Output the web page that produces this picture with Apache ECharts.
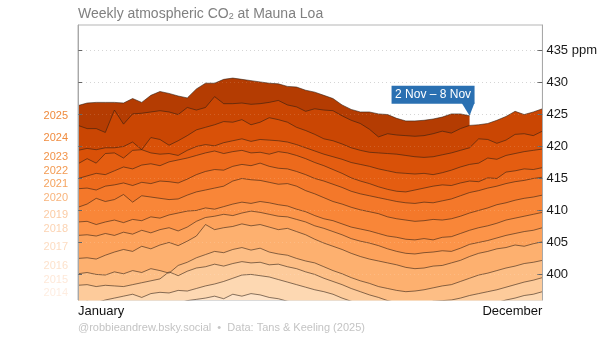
<!DOCTYPE html>
<html><head><meta charset="utf-8">
<script src="https://cdn.jsdelivr.net/npm/echarts@6/dist/echarts.min.js"></script>
<style>html,body{margin:0;padding:0;background:#fff}#c{width:600px;height:338px}</style>
</head><body><div id="c"></div>
<script>
// ---- data (ppm, weekly) ----
const years = [2012,2013,2014,2015,2016,2017,2018,2019,2020,2021,2022,2023,2024,2025];
const co2_2012 = [392.9,393.2,393.5,393.6,394.0,394.3,394.2,394.6,394.5,394.9,395.2,395.5,395.9,396.1,396.3,396.6,396.2,396.9,396.6,397.0,396.8,396.4,396.2,395.8,395.6,395.2,394.8,394.3,394.0,393.5,393.0,392.6,392.3,391.9,391.6,391.3,391.1,391.0,390.9,391.0,391.2,391.5,391.9,392.3,392.7,393.0,393.3,393.7,394.0,394.3,394.5,394.7];
const co2_2013 = [395.5,395.8,395.6,396.0,396.3,396.6,396.9,396.4,397.0,397.2,397.1,397.5,397.4,397.8,398.2,398.5,398.9,399.4,399.9,400.0,399.8,399.6,399.2,398.8,398.4,398.0,397.6,397.3,396.9,396.3,395.8,395.4,395.0,394.6,394.2,393.8,393.5,393.3,393.4,393.2,393.6,393.9,394.1,394.5,395.0,395.3,395.6,396.0,396.3,396.7,396.9,397.3];
const co2_2014 = [398.3,398.4,398.1,398.3,398.2,398.1,398.4,398.7,399.0,399.3,400.4,399.8,400.5,401.0,401.2,401.6,401.3,401.7,402.0,401.8,401.9,401.5,401.6,401.2,400.9,400.4,400.0,399.4,398.9,398.4,397.8,397.3,396.8,396.4,395.9,395.6,395.3,395.2,395.5,395.8,395.9,396.0,396.3,396.7,397.0,397.3,397.6,398.0,398.4,398.8,399.1,399.5];
const co2_2015 = [400.1,400.3,400.0,399.9,400.4,400.1,400.6,400.3,400.9,400.6,400.2,401.4,401.9,402.6,403.1,403.6,403.4,403.9,404.2,403.8,404.1,403.5,403.2,403.0,402.5,402.1,401.8,401.2,400.6,400.1,399.5,399.0,398.6,398.1,397.8,397.5,397.3,397.4,397.6,397.9,398.2,398.4,398.9,399.4,399.9,400.2,400.6,401.0,401.3,401.7,401.9,402.2];
const co2_2016 = [402.5,402.6,402.4,403.0,403.5,403.9,403.6,404.4,404.0,404.6,405.0,404.5,405.2,406.0,407.8,407.0,407.3,407.5,407.9,407.6,407.8,407.4,407.0,407.2,406.7,406.2,405.5,404.9,404.4,403.9,403.3,402.8,402.4,402.1,401.8,401.5,401.1,400.9,401.0,401.3,401.4,401.8,402.2,402.8,403.3,403.6,404.0,404.2,404.6,404.4,404.8,405.1];
const co2_2017 = [406.1,406.2,406.0,406.4,406.1,406.6,406.3,406.9,406.5,407.0,407.3,406.8,407.4,408.3,408.9,409.1,409.4,409.2,409.6,409.9,409.7,409.4,409.1,409.0,408.6,408.2,407.6,407.2,406.7,406.2,405.6,405.2,404.9,404.5,404.0,403.6,403.3,403.2,403.4,403.5,403.7,403.6,404.1,404.7,405.0,405.3,405.7,406.1,406.4,406.7,406.9,407.3];
const co2_2018 = [408.2,408.3,407.8,408.2,408.5,408.1,408.6,408.4,409.0,408.8,409.3,409.6,409.9,410.0,410.4,410.2,410.6,411.0,411.3,411.1,411.4,411.2,410.9,410.7,410.2,409.8,409.2,408.7,408.4,407.9,407.4,407.1,406.8,406.4,406.0,405.8,405.5,405.4,405.6,405.4,405.8,405.9,406.4,406.9,407.3,407.6,408.0,408.5,408.8,409.1,409.4,409.7];
const co2_2019 = [410.5,411.0,411.9,411.4,411.7,412.5,411.3,412.3,412.1,411.9,411.7,411.8,412.4,412.9,413.2,413.5,413.8,414.6,415.0,414.8,414.7,414.4,414.1,414.2,413.8,413.1,412.6,412.0,411.4,411.0,410.5,410.1,409.8,409.5,409.0,408.7,408.5,408.3,408.4,408.6,408.5,408.7,409.1,409.6,410.0,410.4,410.9,411.2,411.6,411.9,412.1,412.4];
const co2_2020 = [413.4,413.5,413.2,413.8,414.0,414.3,413.9,414.4,414.2,414.6,414.5,414.3,414.9,415.6,416.1,416.4,416.3,416.9,417.2,417.0,417.4,416.9,416.6,416.5,416.1,415.6,415.0,414.6,414.1,413.6,413.0,412.6,412.3,412.0,411.7,411.4,411.2,411.1,411.3,411.2,411.5,411.8,412.3,412.8,413.1,413.5,413.8,414.2,414.5,414.7,415.0,415.2];
const co2_2021 = [415.0,415.4,415.8,415.6,416.2,416.8,416.5,417.1,417.3,417.0,417.6,417.9,418.2,418.6,419.0,419.3,418.9,419.2,419.4,419.0,419.1,418.8,419.2,419.0,418.6,418.1,417.5,417.0,416.4,415.8,415.1,414.6,414.2,413.7,413.3,413.0,412.9,413.2,413.5,413.8,414.0,413.9,414.3,414.6,414.5,415.1,415.0,416.0,416.2,416.5,416.4,416.7];
const co2_2022 = [417.3,418.1,417.4,418.9,419.0,418.2,419.4,419.5,419.0,418.8,418.9,418.6,419.4,420.0,420.3,420.1,420.6,420.9,421.2,420.8,421.1,421.0,420.9,420.7,420.3,419.8,419.3,418.8,418.4,418.0,417.5,417.2,416.9,416.5,416.2,415.9,415.8,415.7,415.8,415.6,415.9,416.3,416.8,417.2,417.4,418.2,418.0,418.6,418.9,419.2,419.4,419.6];
const co2_2023 = [419.4,419.7,419.5,419.8,419.8,420.0,420.7,419.5,421.4,421.1,420.2,420.9,421.7,422.6,423.0,423.4,423.9,423.8,424.2,423.4,423.8,424.5,424.2,423.8,423.0,422.5,421.9,421.2,420.9,420.4,419.8,419.4,419.1,419.0,418.9,418.8,418.6,418.4,418.3,418.4,418.7,419.0,419.4,419.8,421.2,421.1,420.5,421.0,421.9,422.0,421.7,422.4];
const co2_2024 = [423.3,422.8,422.8,422.2,425.7,423.5,425.1,425.2,425.4,425.6,425.4,425.0,426.1,425.7,426.1,427.8,426.7,426.7,426.8,426.6,426.7,426.9,427.2,426.5,426.2,425.5,425.9,425.7,425.6,424.8,424.1,423.6,422.7,421.5,422.0,421.8,421.7,421.6,421.7,422.0,422.4,422.1,422.8,423.3,423.4,423.6,424.1,424.7,425.5,425.0,425.4,425.9];
const co2_2025 = [426.4,426.8,426.9,426.9,426.9,426.8,427.5,426.9,428.0,428.6,428.3,427.9,427.6,429.0,429.9,429.9,430.5,430.7,430.5,430.3,430.1,429.9,429.8,429.4,429.3,428.8,428.5,428.0,427.5,426.5,425.8,425.4,425.4,425.1,425.0,424.4,424.0,424.0,424.1,424.3,424.6,425.1,425.1,424.8];
const seriesValues = [co2_2012,co2_2013,co2_2014,co2_2015,co2_2016,co2_2017,co2_2018,co2_2019,co2_2020,co2_2021,co2_2022,co2_2023,co2_2024,co2_2025];
const weeks = Array.from({length: 52}, (_, i) => 'W' + (i + 1));
const xTickLabels = ['January', 'December'];
const yTicks = [400, 405, 410, 415, 420, 425, 430, 435];
const yUnit = 'ppm';
const lastWeekLabel = '2 Nov – 8 Nov';
const titleText = 'Weekly atmospheric CO{sub|2} at Mauna Loa';
const footerText = '@robbieandrew.bsky.social  \u2022  Data: Tans & Keeling (2025)';

// ---- styles ----
const fillColors = ['#fee3c8','#fdd8b2','#fdcb9b','#fdbe85','#fdb06f','#fda25b','#fc9449','#f98638','#f4782a','#ed6a1c','#e45d11','#d95108','#ca4603','#b43c02'];
const labelColors = ['#fff2e8','#fff0e6','#feede1','#fee8d8','#fde2cc','#fddcc1','#fcd3b2','#fbcba4','#f8b47c','#f5a35e','#f39a52','#f29348','#f08c3f','#ef8a3c'];
const FONT = '"Liberation Sans", Arial, Helvetica, sans-serif';
const YMIN = 396, YMAX = 439;

const chart = echarts.init(document.getElementById('c'));
const gridMarks = (color, z) => ({
  type: 'line', data: [], xAxisIndex: 0, yAxisIndex: 0, z: z, silent: true,
  markLine: {
    silent: true, z: z, symbol: ['none', 'none'], label: {show: false},
    lineStyle: {type: [1, 3], color: color, width: 1},
    data: yTicks.map(v => ({yAxis: v}))
  }
});
const series = [gridMarks('#cfcfcf', 1)];
for (let k = years.length - 1; k >= 0; k--) {
  series.push({
    type: 'line', name: String(years[k]), data: seriesValues[k],
    xAxisIndex: 0, yAxisIndex: 0,
    showSymbol: false, symbol: 'none', silent: true, clip: true,
    lineStyle: {color: 'rgba(45,30,20,0.72)', width: 0.8},
    areaStyle: {color: fillColors[k], opacity: 1, origin: 'start'},
    z: 2
  });
}
series.push(gridMarks('rgba(255,255,255,0.14)', 6));

chart.setOption({
  animation: false,
  title: {
    text: titleText, left: 78, top: 7, padding: 0,
    textStyle: {color: '#808080', fontSize: 14, fontWeight: 'normal', fontFamily: FONT,
      rich: {sub: {fontSize: 9, color: '#808080', fontFamily: FONT, verticalAlign: 'bottom', lineHeight: 9}}}
  },
  grid: {left: 78, right: 57, top: 25, bottom: 38, show: true, borderColor: '#b5b5b5', borderWidth: 1},
  xAxis: {
    type: 'category', data: weeks, boundaryGap: false,
    axisLine: {show: false}, axisTick: {show: false}, splitLine: {show: false},
    axisLabel: {
      interval: 0, color: '#111', fontSize: 13, fontFamily: FONT, margin: 5,
      alignMinLabel: 'left', alignMaxLabel: 'right',
      formatter: (v, i) => i === 0 ? xTickLabels[0] : (i === weeks.length - 1 ? xTickLabels[1] : '')
    }
  },
  yAxis: [{
    type: 'value', position: 'right', min: YMIN, max: YMAX, z: 5,
    axisLine: {show: true, lineStyle: {color: '#a8a8a8', width: 1}},
    axisTick: {show: true, inside: true, length: 5, customValues: yTicks, lineStyle: {color: '#666'}},
    axisLabel: {show: true, customValues: yTicks, color: '#1a1a1a', fontSize: 13, fontFamily: FONT, margin: 4,
      formatter: v => v === yTicks[yTicks.length - 1] ? v + ' ' + yUnit : String(v)},
    splitLine: {show: false}
  }, {
    type: 'value', position: 'left', min: YMIN, max: YMAX, z: 5,
    axisLine: {show: true, lineStyle: {color: '#a8a8a8', width: 1}},
    axisTick: {show: true, inside: true, length: 4, customValues: yTicks, lineStyle: {color: '#666'}},
    axisLabel: {show: false},
    splitLine: {show: false}
  }],
  series: series
});

// ---- year labels at the band midpoints of the first week, annotation, footer ----
const gfx = [];
for (let k = 1; k < years.length; k++) {
  const top = seriesValues[k][0];
  if (top <= YMIN) continue;
  const below = Math.max(seriesValues[k - 1][0], YMIN);
  const mid = (top + below) / 2;
  const p = chart.convertToPixel({xAxisIndex: 0, yAxisIndex: 0}, [0, mid]);
  gfx.push({type: 'text', x: p[0] - 10, y: p[1], z: 10,
    style: {text: String(years[k]), fill: labelColors[k], font: '11px ' + FONT, align: 'right', verticalAlign: 'middle'}});
}
const last = co2_2025.length - 1;
const tip = chart.convertToPixel({xAxisIndex: 0, yAxisIndex: 0}, [last, co2_2025[last]]);
const boxW = 83, boxH = 18;
const boxRight = tip[0] + 5, boxBottom = tip[1] - 12;
gfx.push({type: 'polygon', z: 20, shape: {points: [[boxRight - 13, boxBottom - 1], [boxRight, boxBottom - 1], [tip[0], tip[1]]]}, style: {fill: '#2a70b2'}});
gfx.push({type: 'rect', z: 20, shape: {x: boxRight - boxW, y: boxBottom - boxH, width: boxW, height: boxH}, style: {fill: '#2a70b2'}});
gfx.push({type: 'text', z: 21, x: boxRight - boxW / 2, y: boxBottom - boxH / 2,
  style: {text: lastWeekLabel, fill: '#ffffff', font: '12px ' + FONT, align: 'center', verticalAlign: 'middle'}});
gfx.push({type: 'text', z: 10, x: 78, y: 328,
  style: {text: footerText, fill: '#c4c4c4', font: '11px ' + FONT, align: 'left', verticalAlign: 'middle'}});
chart.setOption({graphic: gfx});
</script>
</body></html>
